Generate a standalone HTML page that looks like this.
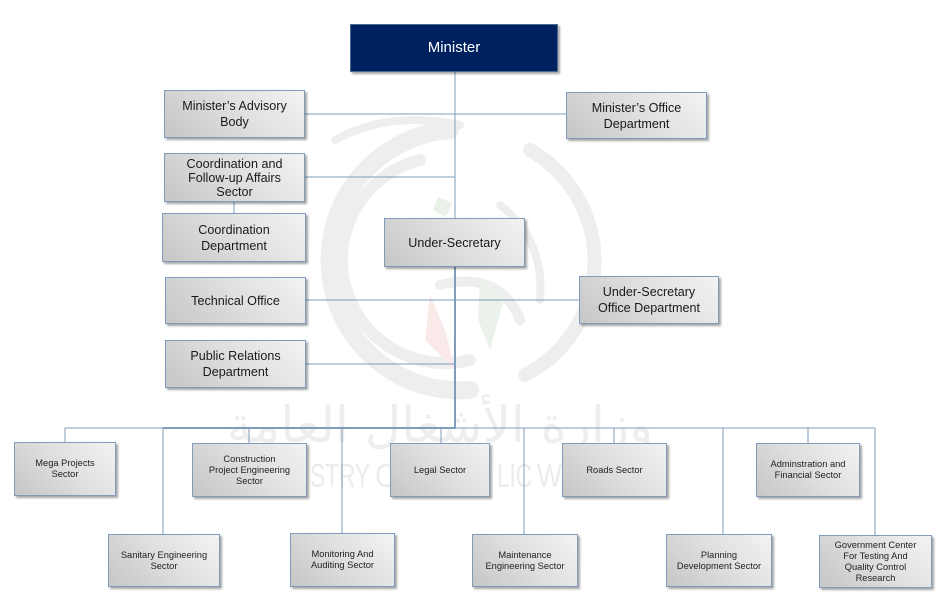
<!DOCTYPE html>
<html>
<head>
<meta charset="utf-8">
<style>
  html, body { margin:0; padding:0; background:#fff; }
  body { width:945px; height:601px; position:relative; overflow:hidden; font-family:"Liberation Sans", Arial, sans-serif; }
  svg.bg { position:absolute; left:0; top:0; }
  .b { position:absolute; box-sizing:border-box; border:1px solid #7f9cbb;
       background:linear-gradient(45deg, #c6c6c6 0%, #dedede 50%, #f3f3f3 100%);
       box-shadow:2px 2px 2px rgba(0,0,0,0.35);
       display:flex; align-items:center; justify-content:center; text-align:center;
       color:#1a1a1a; font-size:12.6px; line-height:16px; }
  .s { font-size:9.3px; line-height:11px; color:#222; }
  .m { background:#00215f; color:#fff; font-size:15px; border:1px solid #4d6a94; }
</style>
</head>
<body>
<svg class="bg" width="945" height="601" viewBox="0 0 945 601">
  <defs>
    <clipPath id="wc"><rect x="200" y="380" width="490" height="130"/></clipPath>
  </defs>
  <!-- watermark -->
  <g fill="none" stroke="#eeeeee" stroke-linecap="round">
    <path d="M 450 130 A 128 128 0 1 0 470 390" stroke-width="18"/>
    <path d="M 530 150 A 128 128 0 0 1 525 375" stroke-width="14"/>
    <path d="M 420 160 A 95 95 0 1 0 470 360" stroke-width="12"/>
    <path d="M 335 140 Q 390 110 460 125" stroke-width="8"/>
    <path d="M 500 205 Q 545 240 540 300" stroke-width="8"/>
    <path d="M 440 285 Q 500 270 520 320" stroke-width="10"/>
  </g>
  <path d="M 430 295 L 445 330 L 455 370 L 425 340 Z" fill="#f9e9e9"/>
  <path d="M 480 280 L 505 295 L 490 350 L 478 320 Z" fill="#ebf2eb"/>
  <path d="M 438 197 L 452 203 L 446 217 L 433 210 Z" fill="#e9f1e9"/>
  <g clip-path="url(#wc)" font-family="'Liberation Sans', sans-serif" font-size="33" fill="#ececec">
    <text x="440" y="442" text-anchor="middle" font-family="'DejaVu Sans', 'Noto Sans CJK SC', sans-serif" font-size="50" fill="#eeeeee">وزارة الأشغال العامة</text>
    <text x="250" y="487" textLength="55" lengthAdjust="spacingAndGlyphs">MINI</text>
    <text x="310" y="487" textLength="60" lengthAdjust="spacingAndGlyphs">STRY</text>
    <text x="375" y="487" textLength="40" lengthAdjust="spacingAndGlyphs">OF</text>
    <text x="425" y="487" textLength="65" lengthAdjust="spacingAndGlyphs">PUB</text>
    <text x="497" y="487" textLength="35" lengthAdjust="spacingAndGlyphs">LIC</text>
    <text x="537" y="487" textLength="100" lengthAdjust="spacingAndGlyphs">WORKS</text>
  </g>
  <!-- connectors -->
  <g stroke="#7f9cbb" stroke-width="1" fill="none" shape-rendering="crispEdges">
    <line x1="455" y1="72" x2="455" y2="218"/>
    <line x1="305" y1="114" x2="566" y2="114"/>
    <line x1="305" y1="177" x2="455" y2="177"/>
    <line x1="234" y1="202" x2="234" y2="213"/>
    <line x1="306" y1="300" x2="579" y2="300"/>
    <line x1="306" y1="364" x2="455" y2="364"/>
    <line x1="65" y1="428" x2="875" y2="428"/>
    <line x1="65" y1="428" x2="65" y2="442"/>
    <line x1="163" y1="428" x2="163" y2="534"/>
    <line x1="249" y1="428" x2="249" y2="443"/>
    <line x1="342" y1="428" x2="342" y2="533"/>
    <line x1="441" y1="428" x2="441" y2="443"/>
    <line x1="524" y1="428" x2="524" y2="534"/>
    <line x1="614" y1="428" x2="614" y2="443"/>
    <line x1="723" y1="428" x2="723" y2="534"/>
    <line x1="808" y1="428" x2="808" y2="443"/>
    <line x1="875" y1="428" x2="875" y2="535"/>
  </g>
  <g stroke="#7f9cbb" stroke-width="2" fill="none">
    <line x1="455" y1="267" x2="455" y2="429"/>
    <line x1="163" y1="428" x2="456" y2="428"/>
  </g>
</svg>

<div class="b m" style="left:350px;top:24px;width:208px;height:48px;">Minister</div>

<div class="b" style="left:164px;top:90px;width:141px;height:48px;">Minister’s Advisory<br>Body</div>
<div class="b" style="left:566px;top:92px;width:141px;height:47px;">Minister’s Office<br>Department</div>
<div class="b" style="left:164px;top:153px;width:141px;height:49px;line-height:14px;">Coordination and<br>Follow-up Affairs<br>Sector</div>
<div class="b" style="left:162px;top:213px;width:144px;height:49px;">Coordination<br>Department</div>
<div class="b" style="left:384px;top:218px;width:141px;height:49px;">Under-Secretary</div>
<div class="b" style="left:165px;top:277px;width:141px;height:47px;">Technical Office</div>
<div class="b" style="left:579px;top:276px;width:140px;height:48px;">Under-Secretary<br>Office Department</div>
<div class="b" style="left:165px;top:340px;width:141px;height:48px;">Public Relations<br>Department</div>

<div class="b s" style="left:14px;top:442px;width:102px;height:54px;">Mega Projects<br>Sector</div>
<div class="b s" style="left:192px;top:443px;width:115px;height:54px;">Construction<br>Project Engineering<br>Sector</div>
<div class="b s" style="left:390px;top:443px;width:100px;height:54px;">Legal Sector</div>
<div class="b s" style="left:562px;top:443px;width:105px;height:54px;">Roads Sector</div>
<div class="b s" style="left:756px;top:443px;width:104px;height:54px;">Adminstration and<br>Financial Sector</div>

<div class="b s" style="left:108px;top:534px;width:112px;height:53px;">Sanitary Engineering<br>Sector</div>
<div class="b s" style="left:290px;top:533px;width:105px;height:54px;">Monitoring And<br>Auditing Sector</div>
<div class="b s" style="left:472px;top:534px;width:106px;height:53px;">Maintenance<br>Engineering Sector</div>
<div class="b s" style="left:666px;top:534px;width:106px;height:53px;">Planning<br>Development Sector</div>
<div class="b s" style="left:819px;top:535px;width:113px;height:53px;">Government Center<br>For Testing And<br>Quality Control<br>Research</div>
</body>
</html>
